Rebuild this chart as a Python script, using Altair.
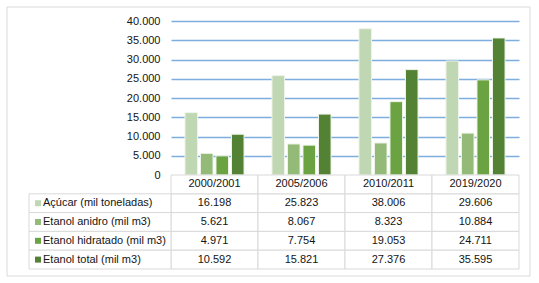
import altair as alt
import pandas as pd

categories = ["2000/2001", "2005/2006", "2010/2011", "2019/2020"]
series = [
    "Açúcar (mil toneladas)",
    "Etanol anidro (mil m3)",
    "Etanol hidratado (mil m3)",
    "Etanol total (mil m3)",
]
acucar = [16198, 25823, 38006, 29606]
anidro = [5621, 8067, 8323, 10884]
hidratado = [4971, 7754, 19053, 24711]
total = [10592, 15821, 27376, 35595]
colors = ["#C0D7B3", "#93BB77", "#6BA342", "#548235"]
y_ticks = [0, 5000, 10000, 15000, 20000, 25000, 30000, 35000, 40000]
header_key = " "

FONT = "Liberation Sans"
FS = 11
TXT = "#141414"
BORDER = "#D9D9D9"

rows = []
for s, vals in zip(series, [acucar, anidro, hidratado, total]):
    for c, v in zip(categories, vals):
        rows.append({"serie": s, "linha": s, "safra": c, "valor": v,
                     "rotulo": f"{v:,}".replace(",", ".")})
df = pd.DataFrame(rows)
hdr = pd.DataFrame({"safra": categories, "linha": header_key, "rotulo": categories})
table_df = pd.concat([df[["safra", "linha", "rotulo"]], hdr], ignore_index=True)
series_df = pd.DataFrame({"linha": series, "serie": series})
row_domain = [header_key] + series

color_scale = alt.Scale(domain=series, range=colors)
x_scale = alt.Scale(domain=categories, paddingInner=0, paddingOuter=0)

bars = alt.Chart(df).mark_bar(stroke="#EEF4E9", strokeWidth=1).encode(
    x=alt.X("safra:N", sort=categories, scale=x_scale, axis=None),
    xOffset=alt.XOffset("serie:N", sort=series,
                        scale=alt.Scale(domain=series, paddingInner=0.19, paddingOuter=0.9)),
    y=alt.Y("valor:Q", scale=alt.Scale(domain=[0, 40000], nice=False),
            axis=alt.Axis(values=y_ticks, title=None, domain=False, ticks=False,
                          labelPadding=11, labelFont=FONT, labelFontSize=FS,
                          labelColor=TXT,
                          labelExpr="replace(format(datum.value, ','), ',', '.')",
                          gridColor=alt.condition("datum.value == 0",
                                                  alt.value("transparent"),
                                                  alt.value("#7EAEDE")),
                          gridWidth=1.4)),
    color=alt.Color("serie:N", scale=color_scale, legend=None),
).properties(width=348, height=154)

x_tab = alt.X("safra:N", sort=categories, scale=x_scale, axis=None)
y_tab = alt.Y("linha:N", sort=row_domain,
              scale=alt.Scale(domain=row_domain, paddingInner=0, paddingOuter=0),
              axis=None)

outer = alt.Chart(pd.DataFrame({"k": [0]})).mark_rect(
    fillOpacity=0, stroke=BORDER, strokeWidth=1
).encode(x=alt.value(-164), x2=alt.value(359), y=alt.value(-168), y2=alt.value(101))

cells = alt.Chart(table_df).mark_rect(fill="white", stroke=BORDER, strokeWidth=1).encode(
    x=x_tab, y=y_tab)

label_cells = alt.Chart(series_df).mark_rect(fill="white", stroke=BORDER, strokeWidth=1).encode(
    x=alt.value(-142), x2=alt.value(0), y=y_tab)

values_text = alt.Chart(table_df).mark_text(font=FONT, fontSize=FS, color=TXT).encode(
    x=x_tab, y=y_tab, text="rotulo:N")

squares = alt.Chart(series_df).mark_square(size=36, opacity=1).encode(
    x=alt.value(-133), y=y_tab,
    color=alt.Color("serie:N", scale=color_scale, legend=None))

labels = alt.Chart(series_df).mark_text(font=FONT, fontSize=FS, color=TXT, align="left").encode(
    x=alt.value(-128), y=y_tab, text="serie:N")

table = alt.layer(outer, cells, label_cells, values_text, squares, labels).properties(
    width=348, height=94)

chart = alt.vconcat(bars, table, spacing=0, bounds="flush").properties(
    padding={"left": 6, "top": 6, "right": 4, "bottom": 2},
    background="white",
).configure_view(stroke="transparent")

chart.save("out.html", embed_options={"renderer": "svg", "actions": False})
